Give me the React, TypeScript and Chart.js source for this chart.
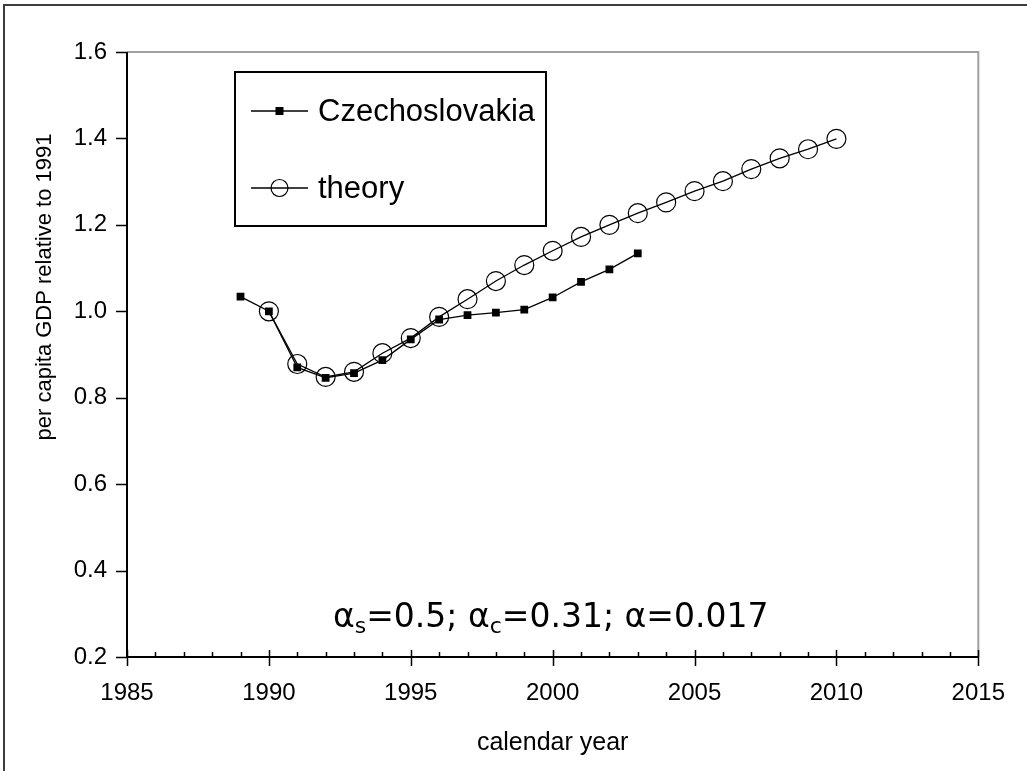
import React, { useEffect, useRef } from "react";
import { Chart, registerables } from "chart.js";

Chart.register(...registerables);

// ---- data ----
const czechYears = [1989, 1990, 1991, 1992, 1993, 1994, 1995, 1996, 1997, 1998, 1999, 2000, 2001, 2002, 2003];
const czechValues = [1.034, 1.0, 0.870, 0.846, 0.857, 0.887, 0.935, 0.981, 0.991, 0.997, 1.004, 1.032, 1.068, 1.097, 1.134];
const theoryYears = [1990, 1991, 1992, 1993, 1994, 1995, 1996, 1997, 1998, 1999, 2000, 2001, 2002, 2003, 2004, 2005, 2006, 2007, 2008, 2009, 2010];
const theoryValues = [1.0, 0.878, 0.848, 0.860, 0.903, 0.938, 0.987, 1.028, 1.070, 1.107, 1.140, 1.172, 1.200, 1.227, 1.252, 1.278, 1.301, 1.329, 1.354, 1.375, 1.399];
const seriesLabels = ["Czechoslovakia", "theory"];
const xMajorTicks = [1985, 1990, 1995, 2000, 2005, 2010, 2015];
const xMinorTicks = [1986, 1987, 1988, 1989, 1991, 1992, 1993, 1994, 1996, 1997, 1998, 1999, 2001, 2002, 2003, 2004, 2006, 2007, 2008, 2009, 2011, 2012, 2013, 2014];
const yTicks = [0.2, 0.4, 0.6, 0.8, 1.0, 1.2, 1.4, 1.6];
const xTitle = "calendar year";
const yTitle = "per capita GDP relative to 1991";
// annotation: [text, isSubscript]
const annotationParts: [string, boolean][] = [
  ["\u03B1", false], ["s", true], ["=0.5; ", false],
  ["\u03B1", false], ["c", true], ["=0.31; ", false],
  ["\u03B1", false], ["=0.017", false],
];

const FONT = "'Liberation Sans', Arial, sans-serif";

const decorPlugin = {
  id: "decor",
  afterDraw(chart: any) {
    const ctx = chart.ctx as CanvasRenderingContext2D;
    const { left, right, top, bottom } = chart.chartArea;
    const xs = chart.scales.x;
    const ys = chart.scales.y;
    ctx.save();

    // outer frame
    ctx.strokeStyle = "#3c3c3c";
    ctx.lineWidth = 2;
    ctx.beginPath();
    ctx.moveTo(4, 771);
    ctx.lineTo(4, 5);
    ctx.lineTo(1027, 5);
    ctx.stroke();

    // plot area gray border (top & right)
    ctx.strokeStyle = "#a0a0a0";
    ctx.lineWidth = 2;
    ctx.beginPath();
    ctx.moveTo(left, top);
    ctx.lineTo(right, top);
    ctx.lineTo(right, bottom);
    ctx.stroke();

    // axis lines
    ctx.strokeStyle = "#000";
    ctx.lineWidth = 2;
    ctx.beginPath();
    ctx.moveTo(left, top);
    ctx.lineTo(left, bottom);
    ctx.lineTo(right, bottom);
    ctx.stroke();

    // ticks
    ctx.lineWidth = 1.5;
    ctx.beginPath();
    xMajorTicks.forEach((v) => {
      const px = Math.round(xs.getPixelForValue(v)) + 0.5;
      ctx.moveTo(px, bottom - 7);
      ctx.lineTo(px, bottom + 9);
    });
    xMinorTicks.forEach((v) => {
      const px = Math.round(xs.getPixelForValue(v)) + 0.5;
      ctx.moveTo(px, bottom - 5);
      ctx.lineTo(px, bottom);
    });
    yTicks.forEach((v) => {
      const py = Math.round(ys.getPixelForValue(v)) + 0.5;
      ctx.moveTo(left - 11, py);
      ctx.lineTo(left, py);
    });
    ctx.stroke();

    // axis titles
    ctx.fillStyle = "#000";
    ctx.textAlign = "center";
    ctx.textBaseline = "middle";
    ctx.font = `25px ${FONT}`;
    ctx.fillText(xTitle, (left + right) / 2, 743);
    ctx.save();
    ctx.translate(45, 287);
    ctx.rotate(-Math.PI / 2);
    ctx.font = `22px ${FONT}`;
    ctx.fillText(yTitle, 0, 0);
    ctx.restore();

    // legend
    const lx = 235, ly = 72, lw = 311, lh = 154;
    ctx.fillStyle = "#fff";
    ctx.fillRect(lx, ly, lw, lh);
    ctx.strokeStyle = "#000";
    ctx.lineWidth = 2;
    ctx.strokeRect(lx, ly, lw, lh);
    const rows = [111, 188];
    chart.data.datasets.forEach((ds: any, i: number) => {
      const y = rows[i];
      ctx.strokeStyle = "#000";
      ctx.lineWidth = 1.5;
      ctx.beginPath();
      ctx.moveTo(251, y);
      ctx.lineTo(308, y);
      ctx.stroke();
      if (ds.pointStyle === "rect") {
        ctx.fillStyle = "#000";
        ctx.fillRect(279.5 - 4, y - 4, 8, 8);
      } else {
        ctx.lineWidth = 1.2;
        ctx.beginPath();
        ctx.arc(279.5, y, 8.5, 0, Math.PI * 2);
        ctx.stroke();
      }
      ctx.fillStyle = "#000";
      ctx.textAlign = "left";
      ctx.textBaseline = "middle";
      ctx.font = `31px ${FONT}`;
      ctx.fillText(ds.label, 318, y + 1);
    });

    // annotation
    let ax = 333;
    const base = 627;
    ctx.textAlign = "left";
    ctx.textBaseline = "alphabetic";
    ctx.fillStyle = "#000";
    annotationParts.forEach(([t, sub]) => {
      ctx.font = sub ? `22px 'DejaVu Sans', sans-serif` : `33px 'DejaVu Sans', sans-serif`;
      ctx.fillText(t, ax, sub ? base + 6 : base);
      ax += ctx.measureText(t).width;
    });

    ctx.restore();
  },
};

export default function App() {
  const ref = useRef<HTMLCanvasElement | null>(null);
  useEffect(() => {
    document.body.style.margin = "0";
    const canvas = ref.current!;
    const chart = new Chart(canvas, {
      type: "scatter",
      data: {
        datasets: [
          {
            label: seriesLabels[0],
            data: czechYears.map((x, i) => ({ x, y: czechValues[i] })),
            showLine: true,
            borderColor: "#000",
            borderWidth: 1.3,
            pointStyle: "rect",
            pointRadius: 5.5,
            pointBackgroundColor: "#000",
            pointBorderColor: "#000",
            pointBorderWidth: 0,
          },
          {
            label: seriesLabels[1],
            data: theoryYears.map((x, i) => ({ x, y: theoryValues[i] })),
            showLine: true,
            borderColor: "#000",
            borderWidth: 1.3,
            pointStyle: "circle",
            pointRadius: 9.5,
            pointBackgroundColor: "rgba(0,0,0,0)",
            pointBorderColor: "#000",
            pointBorderWidth: 1.2,
          },
        ],
      },
      options: {
        animation: false,
        responsive: false,
        devicePixelRatio: 1,
        layout: { padding: { top: 52, right: 30, left: 0, bottom: 0 } },
        plugins: { legend: { display: false }, tooltip: { enabled: false } },
        scales: {
          x: {
            type: "linear",
            min: 1985,
            max: 2015,
            grid: { display: false, drawTicks: false },
            border: { display: false },
            afterBuildTicks: (s: any) => {
              s.ticks = xMajorTicks.map((v) => ({ value: v }));
            },
            afterFit: (s: any) => {
              s.height = 114;
            },
            ticks: {
              autoSkip: false,
              maxRotation: 0,
              padding: 22,
              color: "#000",
              font: { family: FONT, size: 24 },
              callback: (v: any) => String(v),
            },
          },
          y: {
            type: "linear",
            min: 0.2,
            max: 1.6,
            grid: { display: false, drawTicks: false },
            border: { display: false },
            afterBuildTicks: (s: any) => {
              s.ticks = yTicks.map((v) => ({ value: v }));
            },
            afterFit: (s: any) => {
              s.width = 127;
            },
            ticks: {
              autoSkip: false,
              padding: 20,
              color: "#000",
              font: { family: FONT, size: 24 },
              callback: (v: any) => Number(v).toFixed(1),
            },
          },
        },
      },
      plugins: [decorPlugin],
    } as any);
    return () => chart.destroy();
  }, []);
  return <canvas ref={ref} width={1027} height={771} style={{ display: "block" }} />;
}
